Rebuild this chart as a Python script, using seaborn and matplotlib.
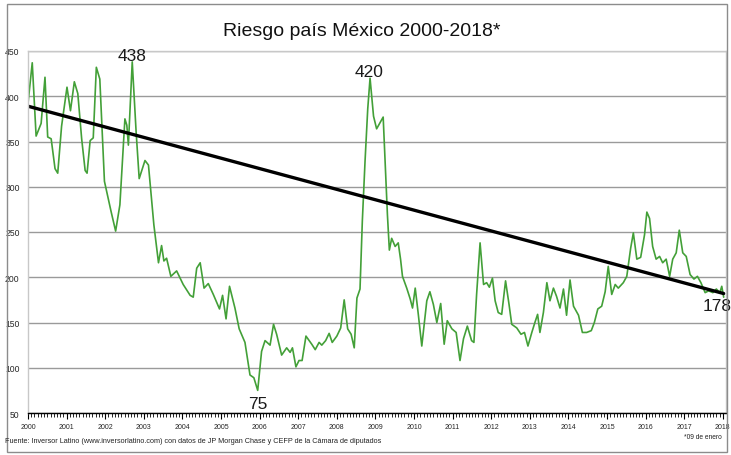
import matplotlib
matplotlib.use("Agg")
import matplotlib.pyplot as plt
import seaborn as sns
from matplotlib.ticker import MultipleLocator
from matplotlib.patches import Rectangle

# Estilo
sns.set_theme(style="white")
plt.rcParams['font.family'] = ['Liberation Sans', 'DejaVu Sans']

# Datos (año decimal, puntos base)
anios = [
    2000.00, 2000.11, 2000.21, 2000.34, 2000.44, 2000.51, 2000.60, 2000.70, 2000.77, 2000.87,
    2001.01, 2001.10, 2001.20, 2001.29, 2001.39, 2001.48, 2001.53, 2001.61, 2001.69, 2001.77,
    2001.86, 2001.98, 2002.15, 2002.27, 2002.38, 2002.51, 2002.56, 2002.60, 2002.70, 2002.80,
    2002.88, 2003.03, 2003.12, 2003.26, 2003.38, 2003.46, 2003.52, 2003.59, 2003.70, 2003.85,
    2004.02, 2004.20, 2004.28, 2004.37, 2004.46, 2004.56, 2004.67, 2004.80, 2004.96, 2005.04,
    2005.13, 2005.22, 2005.36, 2005.47, 2005.62, 2005.75, 2005.85, 2005.95, 2006.05, 2006.14,
    2006.27, 2006.36, 2006.44, 2006.57, 2006.70, 2006.79, 2006.85, 2006.94, 2007.02, 2007.10,
    2007.20, 2007.35, 2007.44, 2007.54, 2007.61, 2007.71, 2007.80, 2007.88, 2008.00, 2008.10,
    2008.19, 2008.28, 2008.37, 2008.45, 2008.52, 2008.60, 2008.66, 2008.73, 2008.80, 2008.86,
    2008.95, 2009.03, 2009.20, 2009.31, 2009.36, 2009.42, 2009.51, 2009.59, 2009.65, 2009.70,
    2009.81, 2009.90, 2009.96, 2010.03, 2010.11, 2010.20, 2010.33, 2010.41, 2010.50, 2010.59,
    2010.69, 2010.78, 2010.86, 2010.98, 2011.09, 2011.19, 2011.28, 2011.38, 2011.49, 2011.55,
    2011.62, 2011.71, 2011.80, 2011.88, 2011.95, 2012.03, 2012.10, 2012.18, 2012.27, 2012.37,
    2012.46, 2012.53, 2012.66, 2012.77, 2012.86, 2012.95, 2013.05, 2013.13, 2013.20, 2013.26,
    2013.35, 2013.44, 2013.52, 2013.61, 2013.69, 2013.78, 2013.87, 2013.95, 2014.04, 2014.13,
    2014.26, 2014.36, 2014.47, 2014.59, 2014.67, 2014.76, 2014.86, 2014.95, 2015.03, 2015.12,
    2015.21, 2015.29, 2015.42, 2015.51, 2015.61, 2015.68, 2015.77, 2015.87, 2015.97, 2016.03,
    2016.10, 2016.18, 2016.27, 2016.36, 2016.44, 2016.53, 2016.62, 2016.70, 2016.79, 2016.87,
    2016.96, 2017.05, 2017.15, 2017.25, 2017.34, 2017.43, 2017.54, 2017.63, 2017.74, 2017.83,
    2017.92, 2017.97, 2018.02,
]
valores = [
    392, 437, 356, 370, 421, 355, 353, 320, 315, 367,
    410, 384, 416, 403, 353, 318, 315, 351, 354, 432,
    419, 306, 273, 251, 280, 375, 368, 346, 438, 361,
    309, 329, 324, 258, 216, 235, 218, 221, 201, 207,
    192, 180, 178, 210, 216, 188, 193, 181, 165, 180,
    154, 190, 166, 143, 128, 92, 89, 75, 118, 130,
    125, 148, 137, 114, 122, 117, 122, 101, 108, 108,
    135, 126, 120, 128, 125, 130, 138, 128, 135, 144,
    175, 143, 137, 122, 177, 187, 262, 328, 386, 420,
    378, 364, 377, 269, 230, 243, 234, 238, 220, 201,
    188, 176, 166, 188, 159, 124, 174, 184, 170, 150,
    171, 126, 152, 143, 139, 108, 132, 146, 130, 128,
    181, 238, 192, 194, 189, 199, 174, 161, 159, 196,
    170, 148, 144, 137, 139, 124, 139, 150, 159, 139,
    161, 194, 174, 188, 179, 166, 187, 158, 197, 168,
    158, 139, 139, 141, 150, 165, 168, 184, 212, 181,
    192, 188, 194, 201, 232, 249, 220, 222, 247, 272,
    265, 234, 220, 223, 216, 220, 201, 220, 227, 252,
    227, 223, 203, 198, 201, 194, 183, 185, 183, 187,
    183, 190, 178,
]

# Línea de tendencia (extremos)
tendencia_x = [2000.0, 2018.02]
tendencia_y = [389, 182]

# Etiquetas de valores destacados
destacados_x = [2002.70, 2008.86, 2005.95, 2018.02]
destacados_y = [438, 420, 75, 178]

anios_ticks = list(range(2000, 2019))
y_ticks = list(range(50, 451, 50))

fig = plt.figure(figsize=(7.31, 4.56), dpi=100)
ax = fig.add_axes([28 / 731, 1 - 414 / 456, 698 / 731, 362 / 456])

sns.lineplot(x=anios, y=valores, color='#43a038', lw=1.2, ax=ax, sort=False)
sns.lineplot(x=tendencia_x, y=tendencia_y, color='black', lw=2.4, ax=ax)

ax.set_xlim(2000, 2018.08)
ax.set_ylim(50, 450)
ax.set_xticks(anios_ticks)
ax.set_xticklabels([str(a) for a in anios_ticks], fontsize=5)
ax.xaxis.set_minor_locator(MultipleLocator(1 / 12))
ax.set_yticks(y_ticks)
ax.set_yticklabels([str(v) for v in y_ticks], fontsize=6.2)
ax.tick_params(axis='x', which='major', direction='out', length=4, width=0.8,
               color='black', pad=3, bottom=True)
ax.tick_params(axis='x', which='minor', direction='out', length=3, width=0.6,
               color='black', bottom=True)
ax.tick_params(axis='y', length=0, pad=6)
ax.grid(axis='y', color='#9a9a9a', lw=1)
ax.set_axisbelow(True)
for lado in ['top', 'right', 'left']:
    ax.spines[lado].set_color('#c8c8c8')
    ax.spines[lado].set_linewidth(1)
ax.spines['bottom'].set_color('black')
ax.spines['bottom'].set_linewidth(1)
ax.set_xlabel('')
ax.set_ylabel('')

# Etiquetas de máximos y mínimos
offsets = [(0, 4.3), (-1, 5), (0, -9.5), (-5, -6)]
for x, y, (dx, dy) in zip(destacados_x, destacados_y, offsets):
    ax.annotate(str(y), (x, y), xytext=(dx, dy), textcoords='offset points',
                ha='center', va='center', fontsize=12.5, color='#1a1a1a')

fig.text(362 / 731, 1 - 31 / 456, 'Riesgo país México 2000-2018*', ha='center', va='center',
         fontsize=14, color='#111111')
fig.text(5 / 731, 1 - 442 / 456,
         'Fuente: Inversor Latino (www.inversorlatino.com) con datos de JP Morgan Chase '
         'y CEFP de la Cámara de diputados',
         ha='left', va='center', fontsize=5.2, color='#222222')
fig.text(722 / 731, 1 - 438 / 456, '*09 de enero', ha='right', va='center',
         fontsize=4.8, color='#222222')

# Borde exterior del gráfico
fig.patches.append(Rectangle((7 / 731, 1 - 453 / 456), 720 / 731, 448 / 456,
                             transform=fig.transFigure, fill=False,
                             edgecolor='#8c8c8c', lw=1))

fig.savefig('out.png', dpi=100)
